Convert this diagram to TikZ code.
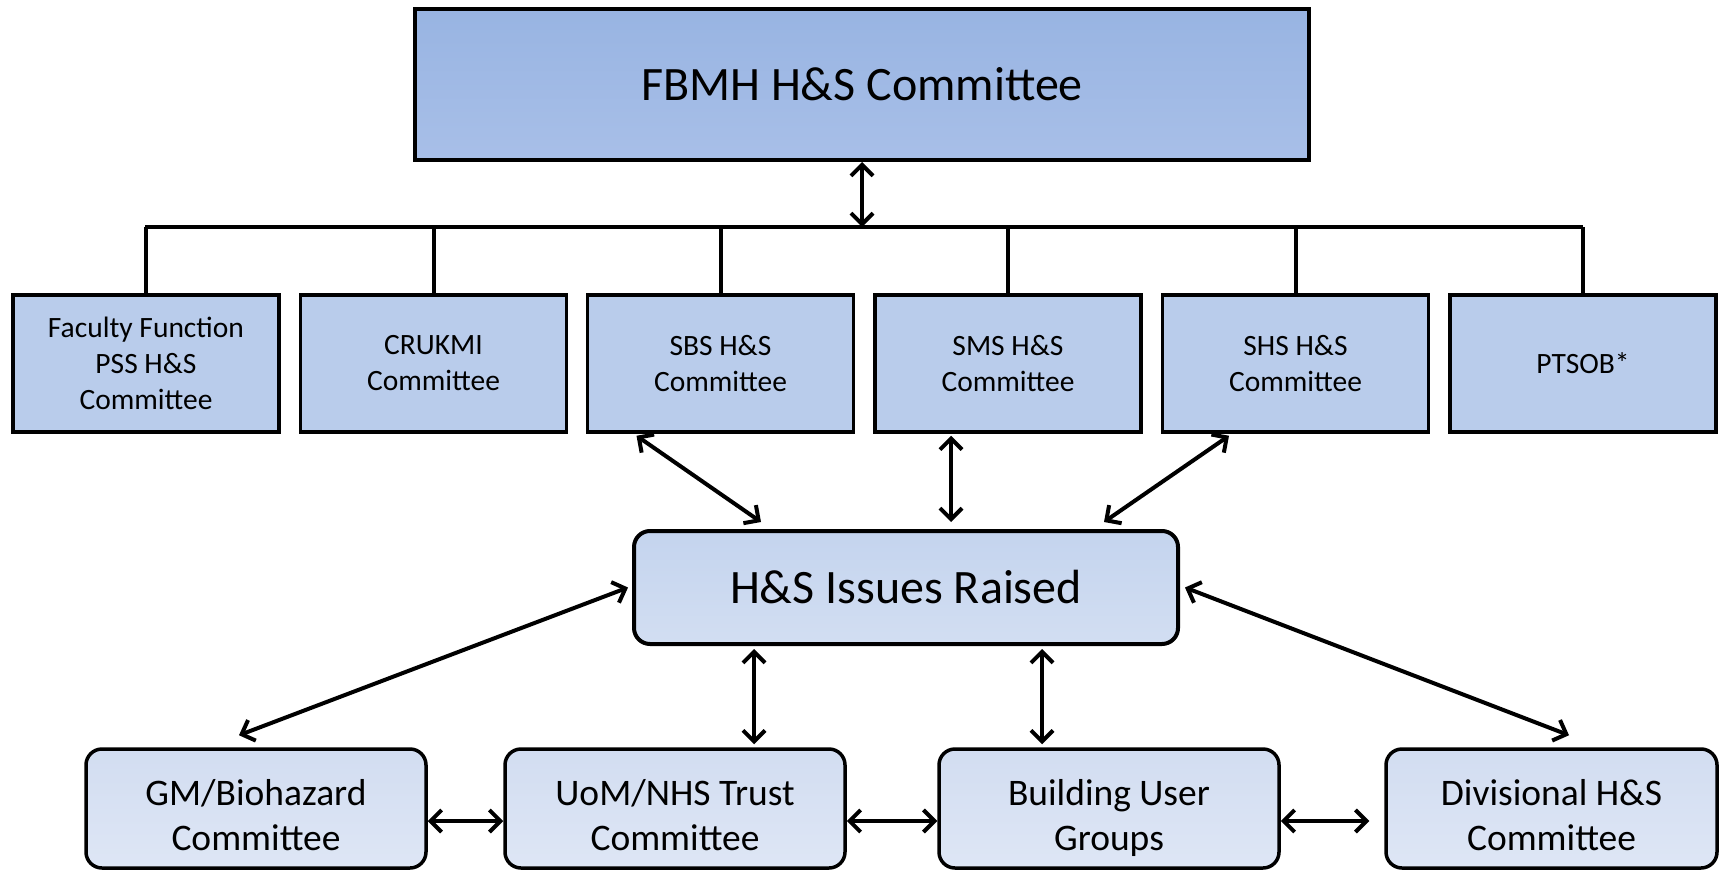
\documentclass[tikz,border=0pt]{standalone}
\usepackage{fontspec}
\setmainfont{Carlito}
\usetikzlibrary{arrows.meta,calc}
\newcommand{\lowtext}[2]{\raisebox{-17pt}[0pt][0pt]{\begin{tabular}{@{}c@{}}#1\\#2\end{tabular}}}
\begin{document}
\begin{tikzpicture}[x=1pt,y=1pt,
  topbox/.style={draw=black,line width=4pt,top color={rgb,255:red,152;green,180;blue,226},bottom color={rgb,255:red,168;green,191;blue,232},minimum width=894pt,minimum height=151pt,font=\fontsize{48}{56}\selectfont,inner sep=0pt},
  midbox/.style={draw=black,line width=3.5pt,fill={rgb,255:red,185;green,204;blue,235},minimum width=266pt,minimum height=137pt,align=center,font=\fontsize{29.5}{36}\selectfont,inner sep=0pt},
  issuebox/.style={draw=black,line width=4pt,rounded corners=16pt,top color={rgb,255:red,196;green,212;blue,238},bottom color={rgb,255:red,210;green,222;blue,242},minimum width=544pt,minimum height=113pt,font=\fontsize{48}{56}\selectfont,inner sep=0pt},
  lowbox/.style={draw=black,line width=3.5pt,rounded corners=16pt,top color={rgb,255:red,210;green,221;blue,241},bottom color={rgb,255:red,222;green,230;blue,245},minimum height=119pt,font=\fontsize{37.5}{45}\selectfont,inner sep=0pt},
  biarrow/.style={line width=4pt,{Straight Barb[length=11pt,width=22pt]}-{Straight Barb[length=11pt,width=22pt]}},
  busline/.style={line width=4pt}
]
\useasboundingbox (0,0) rectangle (1720,-872);
\node[topbox] (top) at (862,-84.5) {FBMH H\&S Committee};
\node[midbox] (ff) at (146,-363.5) {Faculty Function\\PSS H\&S\\Committee};
\node[midbox] (cr) at (433.5,-363.5) {CRUKMI\\Committee};
\node[midbox] (sbs) at (720.5,-363.5) {SBS H\&S\\Committee};
\node[midbox] (sms) at (1008,-363.5) {SMS H\&S\\Committee};
\node[midbox] (shs) at (1295.5,-363.5) {SHS H\&S\\Committee};
\node[midbox] (pt) at (1583,-363.5) {PTSOB*};
\node[issuebox] (mid) at (906,-587.5) {H\&S Issues Raised};
\node[lowbox,minimum width=340pt] (gm) at (256,-808.5) {\lowtext{GM/Biohazard}{Committee}};
\node[lowbox,minimum width=340pt] (uom) at (675,-808.5) {\lowtext{UoM/NHS Trust}{Committee}};
\node[lowbox,minimum width=340pt] (bug) at (1109,-808.5) {\lowtext{Building User}{Groups}};
\node[lowbox,minimum width=331pt] (div) at (1551.5,-808.5) {\lowtext{Divisional H\&S}{Committee}};
\coordinate (busL) at (145,-227);
\coordinate (busR) at (1583,-227);
\coordinate (busM) at (862,-227);
\draw[line width=4.5pt] (busL) -- (busR);
\foreach \n in {ff,cr,sbs,sms,shs,pt}{\draw[busline] (\n.north) -- (\n.north |- busL);}
\draw[biarrow] (top.south) -- (busM);
\draw[biarrow] ([xshift=-84pt,yshift=-2pt]sbs.south) -- ([xshift=-145pt,yshift=7pt]mid.north);
\draw[biarrow] ([xshift=-57pt,yshift=-2pt]sms.south) -- ([xshift=45pt,yshift=7pt]mid.north);
\draw[biarrow] ([xshift=-66.5pt,yshift=-2pt]shs.south) -- ([xshift=198pt,yshift=7pt]mid.north);
\draw[biarrow] ([xshift=-4pt,yshift=0pt]mid.west) -- ([xshift=-17pt,yshift=12pt]gm.north);
\draw[biarrow] ([xshift=5pt,yshift=0pt]mid.east) -- ([xshift=17.5pt,yshift=12pt]div.north);
\draw[biarrow] ([xshift=-152pt,yshift=-3pt]mid.south) -- ([xshift=79pt,yshift=3pt]uom.north);
\draw[biarrow] ([xshift=136pt,yshift=-3pt]mid.south) -- ([xshift=-67pt,yshift=3pt]bug.north);
\draw[biarrow] ([yshift=-12.5pt]gm.east) -- ([yshift=-12.5pt]uom.west);
\draw[biarrow] ([yshift=-12.5pt]uom.east) -- ([yshift=-12.5pt]bug.west);
\draw[biarrow] ([yshift=-12.5pt]bug.east) -- ([xshift=-15pt,yshift=-12.5pt]div.west);
\end{tikzpicture}
\end{document}
